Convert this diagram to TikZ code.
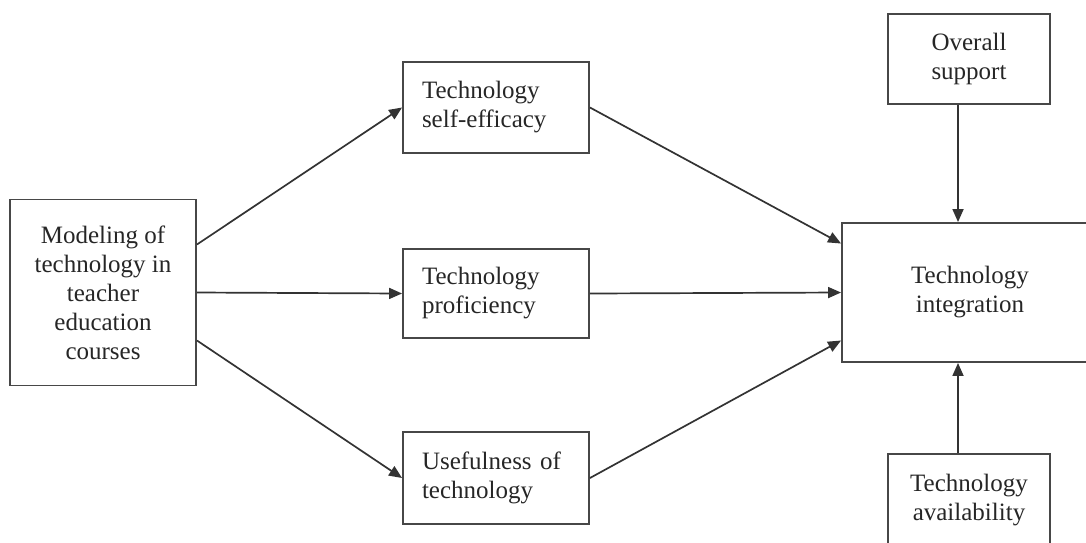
\documentclass[tikz,border=0pt]{standalone}
\usepackage{fontspec}
\setmainfont{Liberation Serif}
\usetikzlibrary{arrows.meta}
\begin{document}
\begin{tikzpicture}[x=1pt,y=-1pt,
  box/.style={draw=black!72, line width=1.9pt, text=black!85, font=\fontsize{25}{29}\selectfont, inner sep=0pt},
  cbox/.style={box, align=center},
  lbox/.style={box, align=left, text width=148pt, inner xsep=19pt, minimum width=186pt},
  arr/.style={draw=black!80, line width=1.7pt, -{Triangle[length=13pt,width=11pt]}}]
\useasboundingbox (0,0) rectangle (1086,542);
\clip (0,0) rectangle (1086,542);
\node[cbox, minimum width=186pt, minimum height=186pt] (left) at (103,292.5) {Modeling of\\technology in\\teacher\\education\\courses};
\node[lbox, minimum height=91pt] (se) at (496,107.5) {Technology\\self-efficacy};
\node[lbox, minimum height=89pt] (prof) at (496,293.5) {Technology\\proficiency};
\node[lbox, minimum height=92pt] (use) at (496,478) {Usefulness of\\technology};
\node[cbox, minimum width=162pt, minimum height=90pt] (over) at (969,59) {Overall\\support};
\node[cbox, minimum width=256pt, minimum height=139pt] (integ) at (970,292.5) {Technology\\integration};
\node[cbox, minimum width=162pt, minimum height=92pt] (avail) at (969,500) {Technology\\availability};
\draw[arr] ([yshift=48pt]left.east) -- (se.west);
\draw[arr] (left.east) -- (prof.west);
\draw[arr] ([yshift=-48pt]left.east) -- (use.west);
\draw[arr] (se.east) -- ([yshift=49pt]integ.west);
\draw[arr] (prof.east) -- (integ.west);
\draw[arr] (use.east) -- ([yshift=-48pt]integ.west);
\draw[arr] ([xshift=-11pt]over.south) -- ([xshift=-11pt]over.south |- integ.north);
\draw[arr] ([xshift=-11pt]avail.north) -- ([xshift=-11pt]avail.north |- integ.south);
\end{tikzpicture}
\end{document}
